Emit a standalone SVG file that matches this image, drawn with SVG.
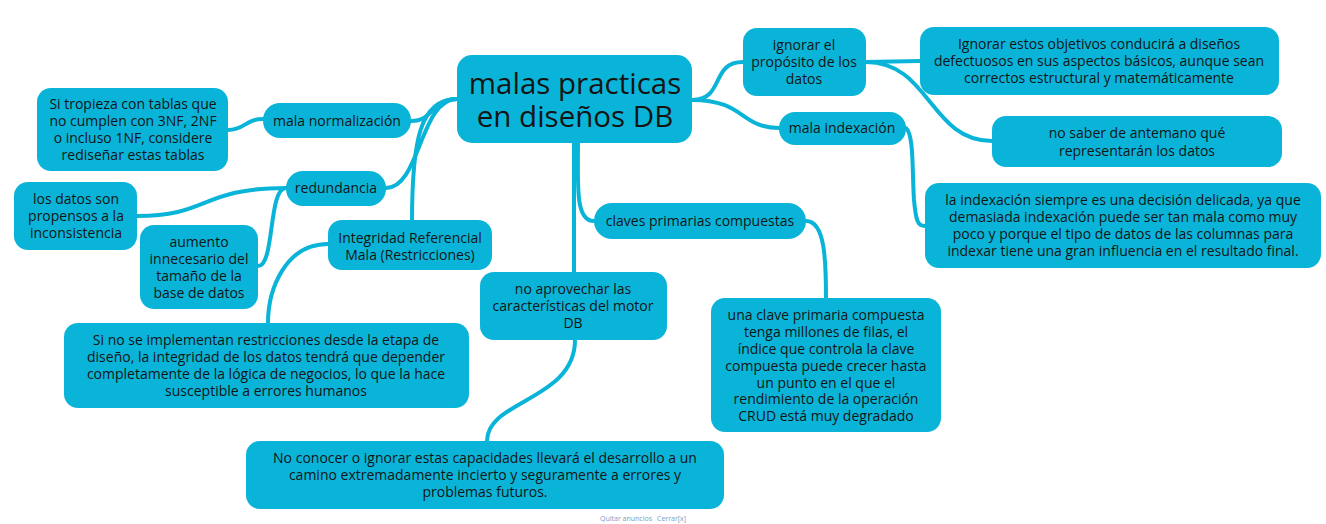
<svg xmlns="http://www.w3.org/2000/svg" width="1326" height="524" viewBox="0 0 1326 524">
<style>
.n{fill:#0ab4d9;}
.t{font-family:"Open Sans","Liberation Sans",sans-serif;font-size:14px;fill:#141414;text-anchor:middle;}
.big{font-size:29.5px;}
.c{fill:none;stroke:#0ab4d9;stroke-width:4;stroke-linecap:round;}
.ad{font-family:"Open Sans","Liberation Sans",sans-serif;font-size:7px;fill:#7a9cc4;}
</style>
<rect width="1326" height="524" fill="#ffffff"/>
<g id="connectors">
<path class="c" d="M692,100 C725,100 710,62 743,62"/>
<path class="c" d="M692,100 C745,100 740,128 779,128"/>
<path class="c" d="M866,62 C890,62 895,61 920,61"/>
<path class="c" d="M866,62 C930,62 930,141 992,141"/>
<path class="c" d="M906,128 C914,135 912,170 914,200 C916,222 918,226 925,226"/>
<path class="c" d="M457,99 C430,99 435,121 411,121"/>
<path class="c" d="M457,99 C420,99 420,188 386,188"/>
<path class="c" d="M457,99 C420,99 412,140 412,222"/>
<path class="c" d="M263,119 C245,119 245,130 228,130"/>
<path class="c" d="M286,188 C200,188 210,216 137,216"/>
<path class="c" d="M286,188 C268,188 275,266 258,266"/>
<path class="c" d="M328,244 C285,244 268,290 268,323"/>
<path class="c" d="M574,143 L574,272"/>
<path class="c" d="M578,143 C578,185 575,221 594,221"/>
<path class="c" d="M806,221 C825,221 826,260 826,298"/>
<path class="c" d="M575,340 C575,400 487,400 487,441"/>
</g>
<g id="central">
<rect class="n" x="457" y="55" width="235" height="88" rx="15"/>
<text class="t big" x="575" y="94">malas practicas</text>
<text class="t big" x="575" y="127">en diseños DB</text>
</g>
<g id="ignorar">
<rect class="n" x="743" y="28" width="123" height="68" rx="14"/>
<text class="t" x="804" y="50">ignorar el</text>
<text class="t" x="804" y="67">propósito de los</text>
<text class="t" x="804" y="84">datos</text>
</g>
<g id="objetivos">
<rect class="n" x="920" y="27" width="359" height="68" rx="14"/>
<text class="t" x="1099" y="49">Ignorar estos objetivos conducirá a diseños</text>
<text class="t" x="1099" y="66">defectuosos en sus aspectos básicos, aunque sean</text>
<text class="t" x="1099" y="83">correctos estructural y matemáticamente</text>
</g>
<g id="nosaber">
<rect class="n" x="992" y="116" width="290" height="51" rx="14"/>
<text class="t" x="1137" y="138">no saber de antemano qué</text>
<text class="t" x="1137" y="156">representarán los datos</text>
</g>
<g id="malaindex">
<rect class="n" x="779" y="112" width="127" height="33" rx="16"/>
<text class="t" x="842" y="133">mala indexación</text>
</g>
<g id="indexacion">
<rect class="n" x="925" y="183" width="396" height="85" rx="14"/>
<text class="t" x="1123" y="205">la indexación siempre es una decisión delicada, ya que</text>
<text class="t" x="1123" y="222">demasiada indexación puede ser tan mala como muy</text>
<text class="t" x="1123" y="239">poco y porque el tipo de datos de las columnas para</text>
<text class="t" x="1123" y="256">indexar tiene una gran influencia en el resultado final.</text>
</g>
<g id="malanorm">
<rect class="n" x="263" y="103" width="148" height="35" rx="17"/>
<text class="t" x="337" y="126">mala normalización</text>
</g>
<g id="tropieza">
<rect class="n" x="37" y="88" width="191" height="83" rx="14"/>
<text class="t" x="133" y="109">Si tropieza con tablas que</text>
<text class="t" x="133" y="126">no cumplen con 3NF, 2NF</text>
<text class="t" x="133" y="143">o incluso 1NF, considere</text>
<text class="t" x="133" y="160">rediseñar estas tablas</text>
</g>
<g id="redundancia">
<rect class="n" x="286" y="171" width="100" height="35" rx="17"/>
<text class="t" x="336" y="193">redundancia</text>
</g>
<g id="losdatos">
<rect class="n" x="14" y="182" width="123" height="68" rx="14"/>
<text class="t" x="76" y="204">los datos son</text>
<text class="t" x="76" y="221">propensos a la</text>
<text class="t" x="76" y="238">inconsistencia</text>
</g>
<g id="aumento">
<rect class="n" x="140" y="225" width="118" height="84" rx="14"/>
<text class="t" x="199" y="247">aumento</text>
<text class="t" x="199" y="264">innecesario del</text>
<text class="t" x="199" y="281">tamaño de la</text>
<text class="t" x="199" y="298">base de datos</text>
</g>
<g id="integridad">
<rect class="n" x="328" y="220" width="164" height="50" rx="14"/>
<text class="t" x="410" y="243">Integridad Referencial</text>
<text class="t" x="410" y="260">Mala (Restricciones)</text>
</g>
<g id="sinose">
<rect class="n" x="64" y="323" width="405" height="85" rx="14"/>
<text class="t" x="266" y="345">Si no se implementan restricciones desde la etapa de</text>
<text class="t" x="266" y="362">diseño, la integridad de los datos tendrá que depender</text>
<text class="t" x="266" y="379">completamente de la lógica de negocios, lo que la hace</text>
<text class="t" x="266" y="396">susceptible a errores humanos</text>
</g>
<g id="claves">
<rect class="n" x="594" y="203" width="212" height="36" rx="18"/>
<text class="t" x="700" y="226">claves primarias compuestas</text>
</g>
<g id="aprovechar">
<rect class="n" x="480" y="272" width="187" height="68" rx="14"/>
<text class="t" x="573" y="294">no aprovechar las</text>
<text class="t" x="573" y="311">características del motor</text>
<text class="t" x="573" y="328">DB</text>
</g>
<g id="unaclave">
<rect class="n" x="711" y="298" width="230" height="134" rx="14"/>
<text class="t" x="826" y="320">una clave primaria compuesta</text>
<text class="t" x="826" y="337">tenga millones de filas, el</text>
<text class="t" x="826" y="354">índice que controla la clave</text>
<text class="t" x="826" y="371">compuesta puede crecer hasta</text>
<text class="t" x="826" y="388">un punto en el que el</text>
<text class="t" x="826" y="404">rendimiento de la operación</text>
<text class="t" x="826" y="421">CRUD está muy degradado</text>
</g>
<g id="noconocer">
<rect class="n" x="246" y="441" width="478" height="68" rx="14"/>
<text class="t" x="485" y="463">No conocer o ignorar estas capacidades llevará el desarrollo a un</text>
<text class="t" x="485" y="480">camino extremadamente incierto y seguramente a errores y</text>
<text class="t" x="485" y="497">problemas futuros.</text>
</g>
<text class="ad" x="600" y="521">Quitar anuncios</text>
<text class="ad" x="657" y="521">Cerrar[x]</text>
</svg>
